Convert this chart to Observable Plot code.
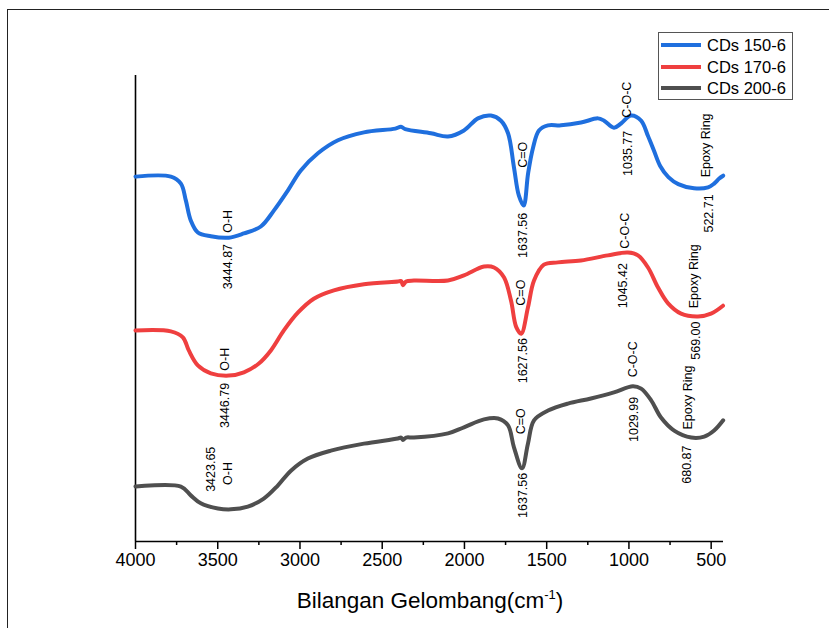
<!DOCTYPE html>
<html>
<head>
<meta charset="utf-8">
<script src="https://cdn.jsdelivr.net/npm/d3@7"></script>
<script src="https://cdn.jsdelivr.net/npm/@observablehq/plot@0.6"></script>
<style>
  html, body { margin: 0; padding: 0; background: #fff; overflow: hidden; }
  #wrap { position: relative; width: 829px; height: 628px; font-family: "Liberation Sans", Arial, sans-serif; }
  #frame { position: absolute; left: 7px; top: 9px; width: 900px; height: 700px; border: 1.5px solid #222; box-sizing: border-box; }
  #chart { position: absolute; left: 0; top: 0; }
  #xtitle { position: absolute; left: 0; width: 860px; top: 588px; text-align: center; font-size: 22.5px; color: #000; white-space: nowrap; }
  #xtitle sup { font-size: 13px; vertical-align: 0; position: relative; top: -9px; }
  #legend { position: absolute; left: 658px; top: 32px; width: 135px; height: 68px; border: 1px solid #555; box-sizing: border-box; background: #fff; }
  .item { position: absolute; left: 2px; height: 20px; font-size: 16.5px; line-height: 20px; color: #000; white-space: nowrap; }
  .sw { position: absolute; left: 0; top: 8px; width: 40px; height: 4px; }
  .lab { position: absolute; left: 46px; top: 0; }
</style>
</head>
<body>
<div id="wrap">
  <div id="frame"></div>
  <div id="chart"></div>
  <div id="xtitle">Bilangan Gelombang(cm<sup>-1</sup>)</div>
  <div id="legend"></div>
</div>
<script>
// ---- data (wavenumber in cm^-1, offset transmittance in arbitrary units) ----
const seriesNames = ["CDs 150-6", "CDs 170-6", "CDs 200-6"];
const seriesColors = ["#1f6fde", "#ef3f3f", "#4f4f4f"];

const wn150 = [4000,3785,3724,3694,3664,3621,3542,3433,3341,3238,3159,3074,2995,2891,2769,2611,2420,2386,2360,2204,2100,2003,1918,1839,1778,1735,1699,1669,1640,1613,1583,1547,1492,1413,1291,1188,1151,1091,1048,987,926,884,847,810,760,700,604,519,482,451,427];
const t150  = [78.3,78.3,76.8,73.2,68.9,66.3,65.5,65.2,66.1,67.6,71.0,75.3,79.6,83.3,86.1,87.8,88.6,89.0,88.5,87.6,86.9,88.2,90.8,91.4,90.3,87.6,80.3,74.2,72.1,79.0,84.5,88.2,89.3,89.3,89.9,90.8,90.3,88.8,89.7,91.4,90.3,87.0,83.8,80.6,78.2,76.7,75.8,76.0,76.8,77.9,78.5];

const wn170 = [4000,3785,3712,3676,3621,3542,3433,3341,3250,3177,3098,3013,2916,2794,2611,2405,2385,2374,2355,2307,2100,2003,1881,1820,1760,1717,1685,1655,1614,1577,1517,1432,1292,1128,1006,945,884,823,762,683,580,501,428];
const t170  = [45.3,45.1,43.8,41.0,37.8,36.1,35.6,36.3,38.2,41.0,45.3,49.1,52.1,53.9,55.2,55.8,55.9,55.0,55.8,56.0,56.0,57.1,59.0,58.8,56.7,51.7,46.0,44.6,50.2,56.0,59.4,59.9,60.3,61.4,62.0,61.4,58.8,54.5,51.1,48.9,48.3,48.9,50.6];

const wn200 = [4000,3724,3664,3603,3499,3420,3317,3220,3135,3055,2952,2812,2611,2405,2385,2374,2355,2307,2100,2003,1881,1796,1735,1699,1650,1614,1577,1492,1371,1231,1091,976,926,865,805,725,621,542,482,427];
const t200  = [11.8,11.8,9.9,8.2,7.1,6.9,7.5,9.2,12.0,15.2,17.8,19.5,21.0,22.1,22.3,21.8,22.3,22.3,23.2,24.5,26.2,26.4,24.9,20.2,15.7,21.0,26.0,28.1,29.6,30.7,32.0,33.3,32.8,30.3,26.6,23.8,22.3,22.5,23.8,26.0];

// peak annotations: text, wavenumber position, value position
const annText = ["O-H","3444.87","C=O","1637.56","C-O-C","1035.77","Epoxy Ring","522.71",
                 "O-H","3446.79","C=O","1627.56","C-O-C","1045.42","Epoxy Ring","569.00",
                 "3423.65","O-H","C=O","1637.56","C-O-C","1029.99","Epoxy Ring","680.87"];
const annWn   = [3435,3435,1647,1641,1009,1003,534,516,
                 3453,3453,1659,1641,1021,1033,607,595,
                 3544,3435,1659,1641,978,972,638,644];
const annT    = [68.7,59.0,83.0,65.7,94.8,83.3,85.0,70.4,
                 39.1,29.2,53.4,38.8,66.7,54.9,56.9,43.1,
                 15.5,14.6,25.8,9.9,39.1,26.2,30.9,16.5];

const majorTicks = [4000,3500,3000,2500,2000,1500,1000,500];
const minorTicks = [3750,3250,2750,2250,1750,1250,750];

// ---- build tables ----
const rows = [];
[[wn150,t150],[wn170,t170],[wn200,t200]].forEach(([w,t],i) => {
  w.forEach((x,j) => rows.push({series: seriesNames[i], wn: x, t: t[j]}));
});
const ann = annText.map((s,i) => ({text: s, wn: annWn[i], t: annT[i]}));

const chart = Plot.plot({
  width: 829,
  height: 628,
  marginLeft: 135,
  marginRight: 106,
  marginTop: 75,
  marginBottom: 87,
  style: {fontFamily: "'Liberation Sans', Arial, sans-serif", color: "#000", background: "transparent"},
  x: {domain: [4000, 425], label: null},
  y: {domain: [0, 100], axis: null},
  color: {domain: seriesNames, range: seriesColors},
  marks: [
    Plot.axisX({ticks: majorTicks, tickSize: 8, tickPadding: 4, fontSize: 18, tickFormat: d => String(d), strokeWidth: 1.5, label: null}),
    Plot.axisX({ticks: minorTicks, tickSize: 4, text: null, strokeWidth: 1.5, label: null}),
    Plot.ruleY([0], {stroke: "#000", strokeWidth: 1.6}),
    Plot.ruleX([4000], {stroke: "#000", strokeWidth: 1.6}),
    Plot.line(rows, {x: "wn", y: "t", z: "series", stroke: "series", strokeWidth: 4, curve: "catmull-rom", strokeLinejoin: "round", strokeLinecap: "round"}),
    Plot.text(ann, {x: "wn", y: "t", text: "text", rotate: -90, fontSize: 12.5, textAnchor: "middle", lineAnchor: "middle", fill: "#000"})
  ]
});
document.getElementById("chart").appendChild(chart);

// legend
const legend = document.getElementById("legend");
seriesNames.forEach((name, i) => {
  const it = document.createElement("div");
  it.className = "item";
  it.style.top = (2 + i * 21.7) + "px";
  it.innerHTML = `<span class="sw" style="background:${seriesColors[i]}"></span><span class="lab">${name}</span>`;
  legend.appendChild(it);
});
</script>
</body>
</html>
